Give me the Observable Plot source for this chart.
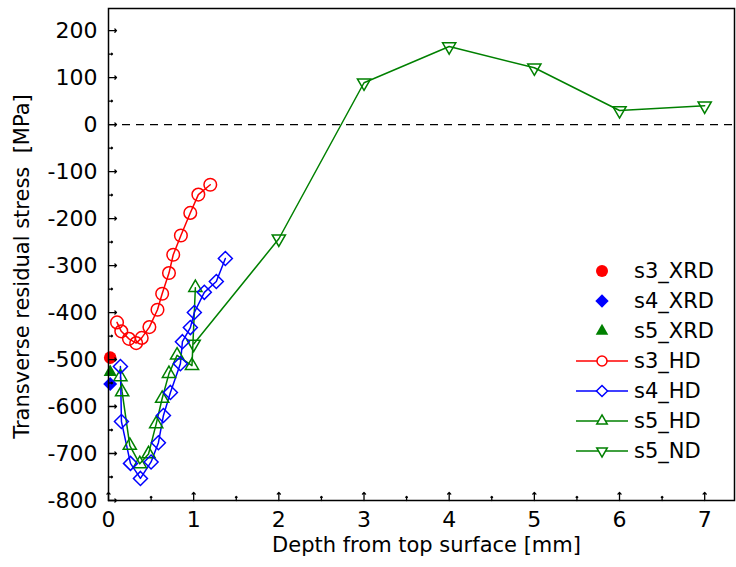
<!DOCTYPE html>
<html><head><meta charset="utf-8">
<script src="https://cdn.jsdelivr.net/npm/d3@7"></script>
<script src="https://cdn.jsdelivr.net/npm/@observablehq/plot@0.6"></script>
<style>
body{margin:0;background:#fff;}
#wrap{position:relative;width:736px;height:567px;font-family:"DejaVu Sans",sans-serif;}
#legend{position:absolute;left:572px;top:256px;}
.row{display:flex;align-items:center;height:30px;font-size:21px;color:#000;white-space:nowrap;}
.row svg{margin-right:4px;}
</style></head><body>
<div id="wrap"><div id="chart"></div><div id="legend"></div></div>
<script>
// ---- data ----
const xrdNames = ["s3_XRD", "s4_XRD", "s5_XRD"];
const xrdDepth = [0.02, 0.02, 0.02];
const xrdStress = [-496, -552, -527];

const s3HdDepth = [0.10, 0.15, 0.24, 0.325, 0.39, 0.48, 0.575, 0.63, 0.71, 0.76, 0.85, 0.96, 1.055, 1.195];
const s3HdStress = [-421, -440, -456, -465, -454, -431, -394, -360, -316, -277, -236, -188, -149, -128];

const s4HdDepth = [0.14, 0.152, 0.258, 0.375, 0.50, 0.586, 0.645, 0.727, 0.844, 0.868, 0.961, 1.008, 1.125, 1.266, 1.372];
const s4HdStress = [-515, -632, -721, -753, -718, -677, -619, -570, -509, -462, -432, -400, -357, -334, -285];

const s5HdDepth = [0.14, 0.16, 0.25, 0.367, 0.47, 0.56, 0.63, 0.71, 0.805, 0.98, 1.02];
const s5HdStress = [-537, -569, -683, -722, -701, -637, -583, -530, -491, -513, -347];

const s5NdDepth = [1.0, 2, 3, 4, 5, 6, 7];
const s5NdStress = [-467, -243, 89, 166, 121, 30, 40];

const xMajor = [0, 1, 2, 3, 4, 5, 6, 7];
const xMinor = [0.5, 1.5, 2.5, 3.5, 4.5, 5.5, 6.5];
const yMajor = [-800, -700, -600, -500, -400, -300, -200, -100, 0, 100, 200];
const yMinor = [-750, -650, -550, -450, -350, -250, -150, -50, 50, 150];

const legendNames = ["s3_XRD", "s4_XRD", "s5_XRD", "s3_HD", "s4_HD", "s5_HD", "s5_ND"];
const legendColors = ["#ff0000", "#0000ff", "#008000", "#ff0000", "#0000ff", "#008000", "#008000"];
const legendShapes = ["circle", "diamond", "up", "circle", "diamond", "up", "down"];
const legendFilled = [true, true, true, false, false, false, false];
const legendLine = [false, false, false, true, true, true, true];

const xLabel = "Depth from top surface [mm]";
const yLabel = "Transverse residual stress\u00a0 [MPa]";

// ---- helpers ----
const red = "#ff0000", blue = "#0000ff", green = "#008000";
const zip = (xs, ys) => xs.map((x, i) => ({x, y: ys[i]}));
const triDown = {draw(ctx, size) {
  const s = Math.sqrt(size) * 0.6824, t = s / 2, u = s * Math.sqrt(3) / 2;
  ctx.moveTo(0, s); ctx.lineTo(u, -t); ctx.lineTo(-u, -t); ctx.closePath();
}};
const triUp = {draw(ctx, size) {
  const s = Math.sqrt(size) * 0.6824, t = s / 2, u = s * Math.sqrt(3) / 2;
  ctx.moveTo(0, -s); ctx.lineTo(u, t); ctx.lineTo(-u, t); ctx.closePath();
}};

const s3 = zip(s3HdDepth, s3HdStress);
const s4 = zip(s4HdDepth, s4HdStress);
const s5 = zip(s5HdDepth, s5HdStress);
const s5n = zip(s5NdDepth, s5NdStress);
const xrd = xrdNames.map((n, i) => ({n, x: xrdDepth[i], y: xrdStress[i]}));
const xrdColor = {s3_XRD: red, s4_XRD: blue, s5_XRD: green};
const xrdSym = {s3_XRD: "circle", s4_XRD: "diamond2", s5_XRD: triUp};

const lineOpts = {x: "x", y: "y", strokeWidth: 1.5};
const dotOpts = {x: "x", y: "y", r: 6.3, fill: "none", strokeWidth: 1.5};

const chart = Plot.plot({
  width: 736, height: 567,
  marginLeft: 108, marginRight: 2, marginTop: 8, marginBottom: 67,
  style: {fontFamily: "'DejaVu Sans', sans-serif", fontSize: "22px", background: "white", color: "black", overflow: "visible"},
  x: {domain: [0, 7.35]},
  y: {domain: [-800, 247]},
  marks: [
    Plot.ruleY([0], {stroke: "black", strokeDasharray: "8,6", strokeWidth: 1.2}),
    Plot.line(s5n, {...lineOpts, stroke: green}),
    Plot.line(s5, {...lineOpts, stroke: green}),
    Plot.line(s4, {...lineOpts, stroke: blue}),
    Plot.line(s3, {...lineOpts, stroke: red}),
    Plot.dot(s5n, {...dotOpts, stroke: green, symbol: triDown}),
    Plot.dot(s5, {...dotOpts, stroke: green, symbol: triUp}),
    Plot.dot(s4, {...dotOpts, stroke: blue, symbol: "diamond2"}),
    Plot.dot(s3, {...dotOpts, stroke: red, symbol: "circle"}),
    Plot.dot(xrd, {x: "x", y: "y", r: 6.3, stroke: "none", fill: d => xrdColor[d.n], symbol: d => xrdSym[d.n]}),
    Plot.axisX({ticks: xMajor, tickSize: 0, tickPadding: 11, label: null, tickFormat: d => String(d)}),
    Plot.axisY({ticks: yMajor, tickSize: 0, tickPadding: 11, label: null, tickFormat: d => String(d)}),
    Plot.vectorX(xMajor, {x: d => d, frameAnchor: "bottom", rotate: 0, length: 8, anchor: "start", stroke: "black", strokeWidth: 1.3}),
    Plot.vectorX(xMinor, {x: d => d, frameAnchor: "bottom", rotate: 0, length: 4, anchor: "start", stroke: "black", strokeWidth: 1.3}),
    Plot.vectorY(yMajor, {y: d => d, frameAnchor: "left", rotate: 90, length: 8, anchor: "start", stroke: "black", strokeWidth: 1.3}),
    Plot.vectorY(yMinor, {y: d => d, frameAnchor: "left", rotate: 90, length: 4, anchor: "start", stroke: "black", strokeWidth: 1.3}),
    Plot.frame({stroke: "black", strokeWidth: 1.5}),
    Plot.text([xLabel], {text: d => d, frameAnchor: "bottom", textAnchor: "middle", lineAnchor: "top", dy: 37, dx: 5, fontSize: 21, fill: "black"}),
    Plot.text([yLabel], {text: d => d, frameAnchor: "left", textAnchor: "middle", lineAnchor: "middle", rotate: -90, dx: -86, dy: 12, fontSize: 21, fill: "black"})
  ]
});
document.getElementById("chart").appendChild(chart);

// ---- legend ----
const legend = d3.select("#legend");
legendNames.forEach((name, i) => {
  const row = legend.append("div").attr("class", "row");
  const svg = row.append("svg").attr("width", 58).attr("height", 30);
  if (legendLine[i]) {
    svg.append("line").attr("x1", 4).attr("x2", 56).attr("y1", 15).attr("y2", 15)
      .attr("stroke", legendColors[i]).attr("stroke-width", 1.5);
  }
  const shape = legendShapes[i];
  const filled = legendFilled[i];
  const r = filled ? 6 : 5;
  const size = Math.PI * r * r;
  let path;
  if (shape === "circle") path = d3.symbol(d3.symbolCircle, size)();
  else if (shape === "diamond") path = d3.symbol(d3.symbolDiamond2, size)();
  else path = d3.symbol(shape === "up" ? triUp : triDown, size)();
  svg.append("path").attr("d", path).attr("transform", "translate(30,15)")
    .attr("fill", filled ? legendColors[i] : "white")
    .attr("stroke", filled ? "none" : legendColors[i]).attr("stroke-width", 1.5);
  row.append("span").text(name);
});
</script>
</body></html>
